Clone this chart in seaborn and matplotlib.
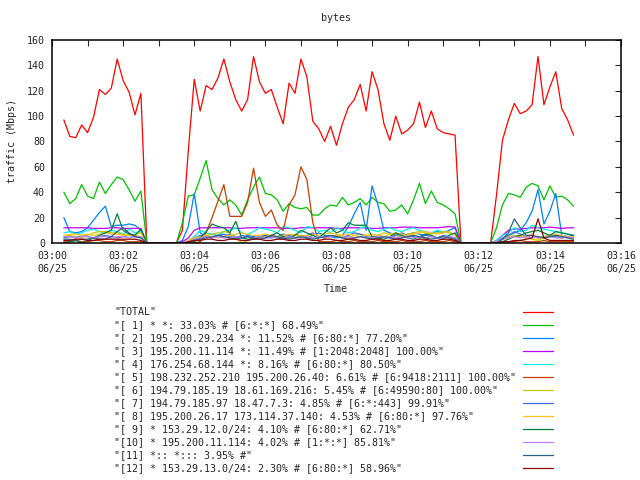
import pandas as pd
import matplotlib
matplotlib.use("Agg")
import matplotlib.pyplot as plt
import matplotlib.dates as mdates
from matplotlib.lines import Line2D
import seaborn as sns

# samples every 10 s from 03:00:20 to 03:14:40
START = "2009-06-25 03:00:20"
N_SAMPLES = 87

LABELS = [
    '"TOTAL"',
    '"[ 1] * *: 33.03% # [6:*:*] 68.49%"',
    '"[ 2] 195.200.29.234 *: 11.52% # [6:80:*] 77.20%"',
    '"[ 3] 195.200.11.114 *: 11.49% # [1:2048:2048] 100.00%"',
    '"[ 4] 176.254.68.144 *: 8.16% # [6:80:*] 80.50%"',
    '"[ 5] 198.232.252.210 195.200.26.40: 6.61% # [6:9418:2111] 100.00%"',
    '"[ 6] 194.79.185.19 18.61.169.216: 5.45% # [6:49590:80] 100.00%"',
    '"[ 7] 194.79.185.97 18.47.7.3: 4.85% # [6:*:443] 99.91%"',
    '"[ 8] 195.200.26.17 173.114.37.140: 4.53% # [6:80:*] 97.76%"',
    '"[ 9] * 153.29.12.0/24: 4.10% # [6:80:*] 62.71%"',
    '"[10] * 195.200.11.114: 4.02% # [1:*:*] 85.81%"',
    '"[11] *:: *::: 3.95% #"',
    '"[12] * 153.29.13.0/24: 2.30% # [6:80:*] 58.96%"',
]

COLORS = ["#ff0000", "#00c000", "#0080ff", "#c000ff", "#00eeee", "#c04000",
          "#c8c800", "#4169e1", "#ffc020", "#008040", "#c080ff", "#306080",
          "#8b0000"]

# rows: 00:20-02:40 | gap | 03:40-11:30 | gap | 12:30-14:40
total = [97, 84, 83, 93, 87, 99, 121, 117, 122, 145, 128, 119, 101, 118, 0,
         0, 0, 0, 0, 0,
         10, 73, 129, 104, 124, 121, 130, 145, 127, 113, 104, 113, 147, 127, 118, 121,
         107, 94, 126, 118, 145, 131, 96, 90, 80, 92, 77, 94, 107, 113, 125, 104,
         135, 121, 94, 81, 100, 86, 89, 94, 111, 91, 104, 90, 87, 86, 85, 0,
         0, 0, 0, 0, 0,
         38, 81, 97, 110, 102, 104, 109, 147, 109, 123, 135, 106, 97, 85]

s1 = [40, 31, 35, 46, 37, 35, 48, 39, 46, 52, 50, 42, 33, 41, 0,
      0, 0, 0, 0, 0,
      16, 37, 38, 51, 65, 42, 35, 30, 34, 30, 22, 34, 44, 52, 39, 38,
      34, 25, 31, 28, 27, 28, 22, 22, 27, 30, 29, 36, 30, 32, 35, 30,
      36, 32, 31, 25, 26, 30, 23, 34, 47, 31, 41, 32, 30, 27, 23, 0,
      0, 0, 0, 0, 0,
      12, 30, 39, 38, 36, 44, 47, 45, 34, 45, 36, 37, 34, 29]

s2 = [20, 9, 8, 9, 12, 18, 24, 29, 13, 14, 14, 15, 14, 10, 0,
      0, 0, 0, 0, 0,
      2, 13, 39, 8, 5, 4, 6, 5, 7, 5, 4, 6, 5, 4, 6, 5,
      4, 3, 5, 6, 5, 4, 6, 8, 6, 5, 4, 6, 13, 23, 32, 10,
      45, 30, 10, 8, 6, 5, 7, 8, 7, 6, 8, 9, 8, 10, 12, 0,
      0, 0, 0, 0, 0,
      1, 3, 6, 8, 10, 16, 25, 42, 15, 25, 39, 6, 5, 4]

s3 = [12, 12, 12, 12, 12, 11.5, 11.5, 11.5, 12, 12, 11.5, 11.5, 11.5, 11.5, 0,
      0, 0, 0, 0, 0,
      1, 4, 10, 12, 12, 12, 12, 12, 12, 11.5, 11.5, 12, 12, 12, 12, 12,
      12, 11.5, 11.5, 11.5, 12, 12, 12, 12, 12, 12, 11.5, 11.5, 12, 12, 12, 12,
      11.5, 11.5, 12, 12, 12, 12.5, 12.5, 12.5, 12, 12, 12, 12, 12.5, 13, 12.5, 0,
      0, 0, 0, 0, 0,
      2, 6, 10, 11, 11, 11.5, 12, 12, 12, 12.5, 12, 11.5, 12, 12]

s4 = [8, 9, 7, 8, 10, 11, 9, 8, 10, 9, 7, 11, 8, 9, 0,
      0, 0, 0, 0, 0,
      0, 2, 5, 10, 8, 7, 6, 9, 10, 12, 8, 7, 9, 12, 11, 10,
      8, 13, 12, 10, 8, 13, 12, 9, 10, 8, 12, 10, 8, 9, 12, 13,
      10, 9, 11, 12, 10, 9, 11, 12, 10, 9, 8, 10, 9, 8, 7, 0,
      0, 0, 0, 0, 0,
      2, 6, 8, 12, 9, 10, 14, 12, 11, 10, 9, 8, 7, 6]

s5 = [1, 1, 2, 1, 1, 2, 2, 1, 1, 2, 2, 1, 1, 1, 0,
      0, 0, 0, 0, 0,
      0, 0, 0, 1, 8, 20, 33, 46, 21, 21, 21, 32, 59, 32, 21, 26,
      14, 10, 30, 38, 60, 50, 16, 1, 1, 1, 2, 1, 1, 2, 1, 1,
      1, 2, 1, 1, 1, 2, 1, 1, 1, 2, 1, 1, 1, 2, 1, 0,
      0, 0, 0, 0, 0,
      0, 1, 1, 1, 2, 1, 1, 1, 2, 1, 1, 1, 1, 1]

s6 = [5, 6, 5, 4, 6, 8, 9, 9, 8, 8, 7, 6, 7, 8, 0,
      0, 0, 0, 0, 0,
      0, 1, 3, 5, 6, 7, 8, 9, 8, 4, 0, 2, 4, 5, 5, 6,
      4, 5, 6, 7, 6, 5, 4, 5, 4, 5, 6, 5, 4, 6, 7, 6,
      5, 6, 8, 7, 6, 5, 7, 8, 9, 8, 7, 8, 9, 8, 7, 0,
      0, 0, 0, 0, 0,
      1, 3, 5, 6, 5, 4, 3, 2, 4, 5, 6, 5, 4, 4]

s7 = [4, 5, 4, 6, 5, 4, 5, 6, 5, 4, 5, 6, 5, 4, 0,
      0, 0, 0, 0, 0,
      0, 1, 4, 6, 5, 4, 6, 7, 5, 4, 6, 5, 3, 5, 6, 4,
      5, 7, 6, 4, 5, 6, 8, 5, 4, 6, 5, 4, 6, 8, 7, 5,
      4, 6, 5, 4, 6, 8, 6, 5, 4, 6, 5, 4, 6, 5, 4, 0,
      0, 0, 0, 0, 0,
      1, 4, 6, 9, 7, 5, 6, 4, 5, 6, 5, 4, 5, 6]

s8 = [6, 7, 7, 6, 7, 6, 7, 8, 7, 7, 6, 6, 6, 5, 0,
      0, 0, 0, 0, 0,
      0, 2, 4, 5, 6, 5, 4, 5, 6, 7, 8, 7, 6, 6, 7, 6,
      5, 6, 7, 6, 5, 6, 7, 6, 7, 8, 7, 6, 7, 6, 5, 6,
      7, 6, 5, 7, 8, 7, 6, 7, 8, 9, 8, 7, 8, 9, 6, 0,
      0, 0, 0, 0, 0,
      1, 3, 4, 5, 6, 5, 7, 3, 5, 6, 7, 6, 5, 5]

s9 = [0, 1, 2, 0, 2, 4, 6, 8, 10, 23, 10, 7, 6, 11, 0,
      0, 0, 0, 0, 0,
      0, 0, 1, 4, 9, 15, 13, 12, 8, 17, 4, 3, 3, 5, 4, 6,
      8, 5, 4, 6, 10, 8, 6, 4, 8, 12, 8, 10, 16, 14, 14, 14,
      5, 4, 3, 5, 8, 6, 4, 3, 5, 7, 6, 4, 3, 6, 8, 0,
      0, 0, 0, 0, 0,
      0, 1, 3, 5, 6, 8, 9, 10, 8, 6, 9, 8, 7, 6]

s10 = [5, 5, 4, 5, 5, 4, 5, 5, 4, 5, 5, 4, 5, 5, 0,
       0, 0, 0, 0, 0,
       0, 1, 3, 4, 5, 4, 5, 4, 4, 5, 4, 5, 4, 5, 4, 4,
       5, 4, 5, 4, 4, 5, 4, 5, 4, 5, 5, 4, 5, 4, 5, 4,
       4, 5, 4, 5, 4, 5, 4, 4, 5, 4, 5, 4, 4, 5, 4, 0,
       0, 0, 0, 0, 0,
       1, 3, 4, 5, 4, 5, 4, 5, 4, 5, 4, 4, 5, 4]

s11 = [3, 3, 2, 3, 3, 4, 3, 3, 5, 9, 12, 8, 5, 4, 0,
       0, 0, 0, 0, 0,
       0, 0, 2, 3, 4, 5, 6, 5, 4, 3, 4, 5, 4, 3, 4, 6,
       5, 4, 3, 4, 5, 4, 3, 4, 5, 6, 5, 4, 3, 4, 5, 4,
       3, 4, 5, 4, 3, 4, 5, 6, 5, 4, 3, 4, 5, 4, 3, 0,
       0, 0, 0, 0, 0,
       0, 3, 8, 19, 12, 6, 6, 5, 4, 5, 6, 5, 4, 3]

s12 = [2, 2, 3, 3, 2, 2, 3, 3, 3, 3, 3, 3, 3, 2, 0,
       0, 0, 0, 0, 0,
       0, 1, 2, 2, 3, 3, 2, 2, 3, 3, 2, 2, 3, 3, 2, 2,
       3, 3, 2, 2, 3, 3, 2, 2, 3, 3, 2, 2, 3, 3, 2, 2,
       3, 3, 2, 2, 3, 3, 2, 2, 3, 3, 2, 2, 3, 3, 2, 0,
       0, 0, 0, 0, 0,
       0, 1, 1, 2, 2, 3, 4, 19, 4, 2, 2, 2, 2, 2]

SERIES = [total, s1, s2, s3, s4, s5, s6, s7, s8, s9, s10, s11, s12]

W, H = 640, 480
FONT = 7.2
LW = 0.9

sns.set_style("white")
plt.rcParams.update({
    "font.family": ["DejaVu Sans Mono", "DejaVu Sans"],
    "font.size": FONT,
    "axes.edgecolor": "black",
})

times = pd.date_range(START, periods=N_SAMPLES, freq="10s")
frames = []
for label, vals in zip(LABELS, SERIES):
    frames.append(pd.DataFrame({"time": times, "value": vals, "series": label}))
df = pd.concat(frames, ignore_index=True)

fig = plt.figure(figsize=(W / 100, H / 100), dpi=100)
fig.patch.set_facecolor("white")
ax = fig.add_axes([52 / W, 1 - 243 / H, (621 - 52) / W, 203 / H])

sns.lineplot(data=df, x="time", y="value", hue="series", hue_order=LABELS,
             palette=dict(zip(LABELS, COLORS)), linewidth=LW,
             estimator=None, sort=False, legend=False, ax=ax)

ax.set_xlim(pd.Timestamp("2009-06-25 03:00:00"), pd.Timestamp("2009-06-25 03:16:00"))
ax.set_ylim(0, 160)
ax.set_yticks(range(0, 161, 20))
ax.xaxis.set_major_locator(mdates.MinuteLocator(byminute=range(0, 60, 2)))
ax.xaxis.set_minor_locator(mdates.MinuteLocator())
ax.xaxis.set_major_formatter(mdates.DateFormatter("%H:%M\n%m/%d"))
ax.tick_params(which="both", direction="in", top=True, right=True,
               length=4, width=0.8, labelsize=FONT)
ax.tick_params(axis="x", pad=6)
ax.tick_params(axis="y", pad=5)
for lbl in ax.get_xticklabels():
    lbl.set_linespacing(1.35)
ax.set_xlabel("")
ax.set_ylabel("")
# border drawn over the curves so zero-valued stretches sit under the axis
for sp in ax.spines.values():
    sp.set_visible(True)
    sp.set_linewidth(1.1)
    sp.set_zorder(5)

fig.text(336 / W, 1 - 18 / H, "bytes", ha="center", va="center", fontsize=FONT)
fig.text(12 / W, 1 - 141 / H, "traffic (Mbps)", ha="center", va="center",
         rotation=90, fontsize=FONT)
fig.text(336 / W, 1 - 289 / H, "Time", ha="center", va="center", fontsize=FONT)

# gnuplot-style key below the plot: text on the left, sample on the right
for i, (label, color) in enumerate(zip(LABELS, COLORS)):
    y = 1 - (312.3 + 12.95 * i) / H
    fig.text(114 / W, y, label, ha="left", va="center", fontsize=FONT)
    fig.add_artist(Line2D([523 / W, 553 / W], [y, y], transform=fig.transFigure,
                          color=color, linewidth=LW))

fig.savefig("out.png", dpi=100)
